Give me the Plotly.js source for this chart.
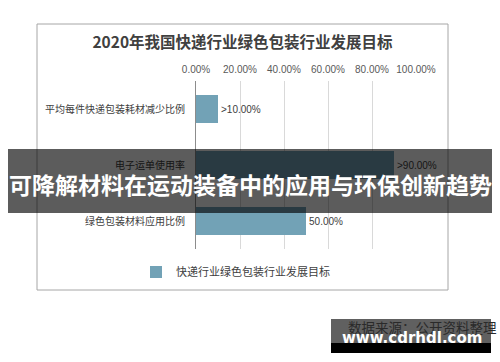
<!DOCTYPE html>
<html>
<head>
<meta charset="utf-8">
<script src="https://cdn.plot.ly/plotly-3.0.1.min.js"></script>
<style>
  html, body { margin: 0; padding: 0; background: #ffffff; }
  #chart { width: 500px; height: 362px; }
</style>
</head>
<body>
<div id="chart"></div>
<script>
// ---- data ----
const categories = ["平均每件快递包装耗材减少比例", "电子运单使用率", "绿色包装材料应用比例"];
const values = [0.10, 0.90, 0.50];
const valueLabels = [">10.00%", ">90.00%", "50.00%"];
const seriesName = "快递行业绿色包装行业发展目标";
const chartTitle = "2020年我国快递行业绿色包装行业发展目标";
const xTickVals = [0, 0.2, 0.4, 0.6, 0.8, 1.0];
const bannerText = "可降解材料在运动装备中的应用与环保创新趋势";
const sourceText = "数据来源：公开资料整理";
const siteText = "www.cdrhdl.com";

// ---- layout helpers (pixel -> paper) ----
const W = 500, H = 362;
const M = { l: 196, r: 84, t: 81, b: 113 };
const PW = W - M.l - M.r, PH = H - M.t - M.b;
const px = x => (x - M.l) / PW;
const py = y => (H - M.b - y) / PH;

const FONT = "Liberation Sans, Arial, Noto Sans CJK SC, sans-serif";
const CJK = "Noto Sans CJK SC, Liberation Sans, sans-serif";

const trace = {
  type: "bar",
  orientation: "h",
  y: categories,
  x: values,
  name: seriesName,
  text: valueLabels,
  textposition: "outside",
  constraintext: "none",
  cliponaxis: false,
  textfont: { family: FONT, size: 10, color: "#404040" },
  marker: { color: "#72a2b6" },
  hoverinfo: "none",
  showlegend: true
};

const layout = {
  width: W, height: H,
  margin: M,
  paper_bgcolor: "#ffffff",
  plot_bgcolor: "#ffffff",
  font: { family: FONT, size: 10, color: "#404040" },
  bargap: 0.5,
  title: {
    text: "<b>" + chartTitle + "</b>",
    font: { family: CJK, size: 15.5, color: "#404040" },
    xref: "container", yref: "container",
    x: 242.5 / W, y: 1 - 43 / H,
    xanchor: "center", yanchor: "middle"
  },
  xaxis: {
    side: "top",
    range: [0, 1],
    tickvals: xTickVals,
    tickformat: ".2%",
    showgrid: true,
    gridcolor: "#d9d9d9",
    gridwidth: 1,
    zeroline: false,
    showline: false,
    ticks: "",
    ticklabelstandoff: 5,
    tickfont: { family: FONT, size: 10, color: "#595959" },
    fixedrange: true
  },
  yaxis: {
    type: "category",
    autorange: "reversed",
    showgrid: false,
    zeroline: false,
    showline: true,
    linecolor: "#8c8c8c",
    linewidth: 1,
    ticks: "",
    ticklabelstandoff: 8,
    tickfont: { family: CJK, size: 10, color: "#404040" },
    fixedrange: true
  },
  showlegend: true,
  legend: {
    orientation: "h",
    xref: "container", yref: "container",
    x: (176 - 40) / W, xanchor: "left",
    y: 1 - 272 / H, yanchor: "middle",
    font: { family: CJK, size: 11, color: "#404040" },
    bgcolor: "rgba(0,0,0,0)",
    borderwidth: 0
  },
  shapes: [
    // chart frame
    { type: "rect", xref: "paper", yref: "paper", layer: "below",
      x0: px(37), x1: px(448), y0: py(290), y1: py(24),
      line: { color: "#a6a6a6", width: 1 }, fillcolor: "rgba(0,0,0,0)" },
    // banner overlay
    { type: "rect", xref: "paper", yref: "paper", layer: "above",
      x0: px(8), x1: px(492), y0: py(213), y1: py(149),
      line: { width: 0 }, fillcolor: "rgba(0,0,0,0.64)" },
    // watermark boxes
    { type: "rect", xref: "paper", yref: "paper", layer: "above",
      x0: px(331), x1: px(491), y0: py(343), y1: py(319),
      line: { width: 0 }, fillcolor: "#606060" },
    { type: "rect", xref: "paper", yref: "paper", layer: "above",
      x0: px(331), x1: px(491), y0: py(353), y1: py(343),
      line: { width: 0 }, fillcolor: "#000000" }
  ],
  annotations: [
    { text: "<b>" + bannerText + "</b>", xref: "paper", yref: "paper",
      x: px(250), y: py(184), xanchor: "center", yanchor: "middle",
      showarrow: false, font: { family: CJK, size: 23, color: "#ffffff" } },
    { text: sourceText, xref: "paper", yref: "paper",
      x: px(346), y: py(327), xanchor: "left", yanchor: "middle",
      showarrow: false, font: { family: CJK, size: 13.5, color: "#2a2a2a" } },
    { text: "<b>" + siteText + "</b>", xref: "paper", yref: "paper",
      x: px(340), y: py(338), xanchor: "left", yanchor: "middle",
      showarrow: false, font: { family: "DejaVu Sans, sans-serif", size: 15, color: "#ffffff" } }
  ]
};

Plotly.newPlot("chart", [trace], layout, { displayModeBar: false, staticPlot: true });
</script>
</body>
</html>
